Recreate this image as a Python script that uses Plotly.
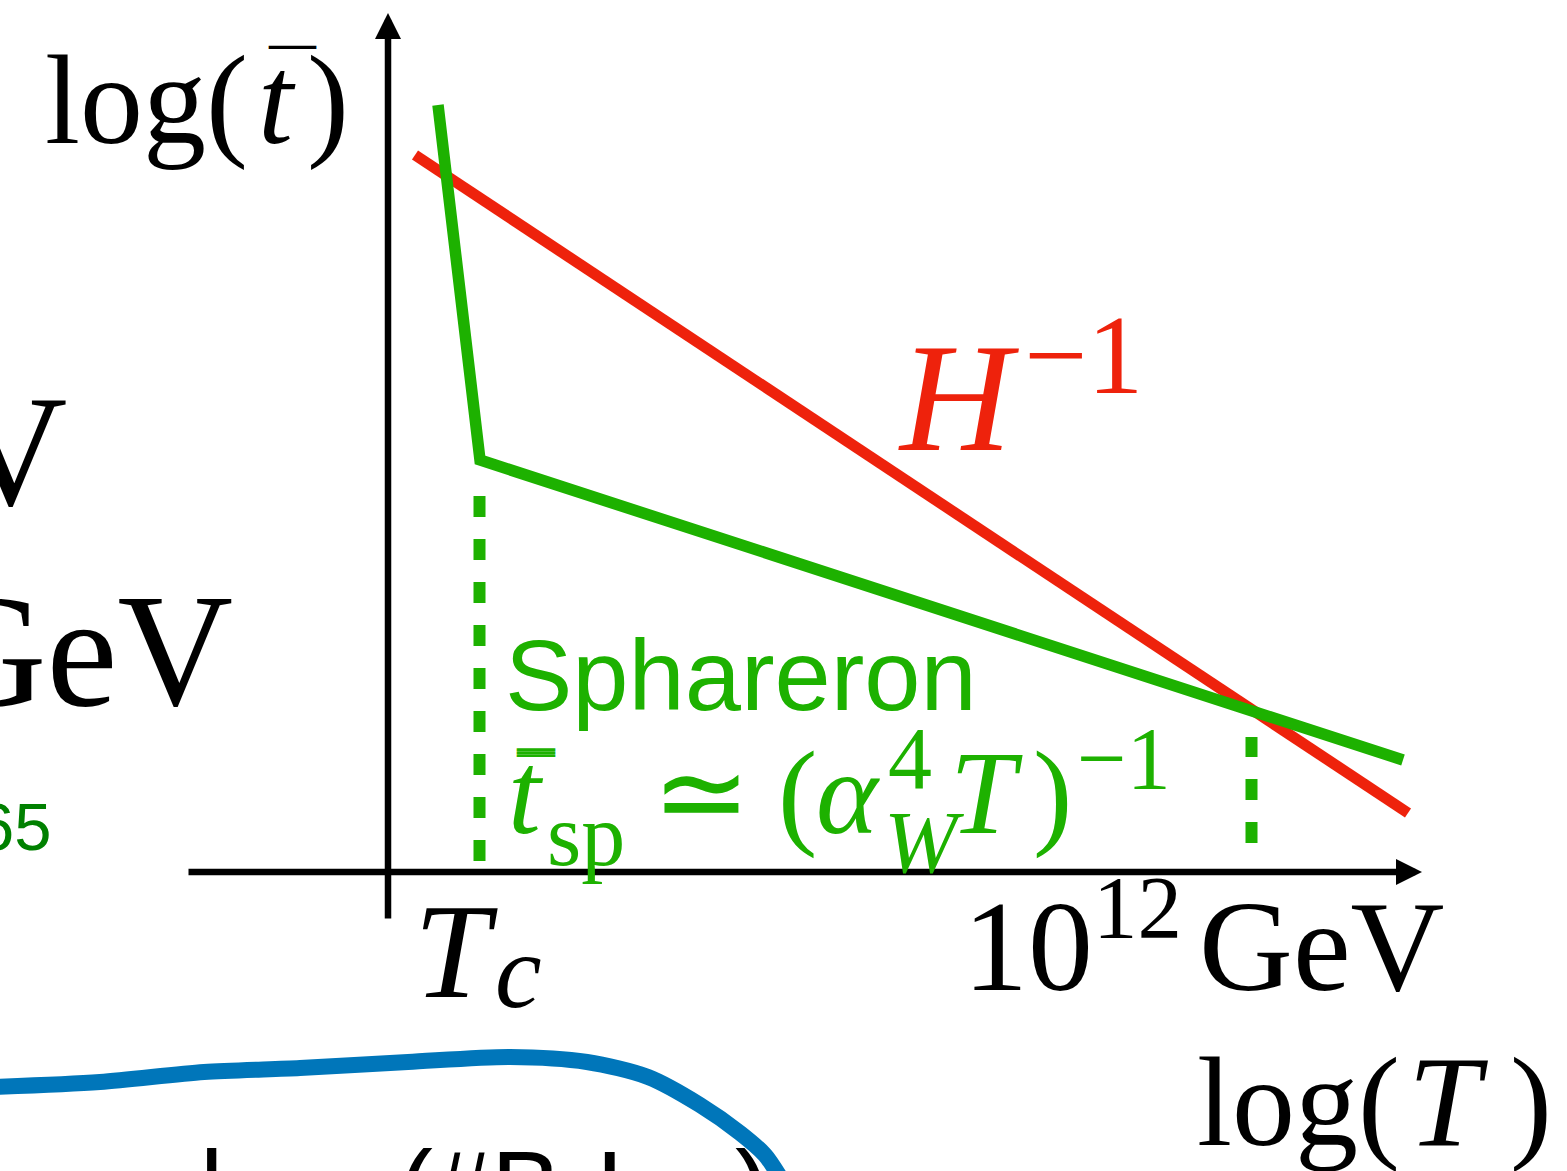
import plotly.graph_objects as go

# ---------------- data (arbitrary log units, origin at axis crossing) ----------------
hubble_x = [0.27, 10.20]          # log(T)
hubble_y = [7.17, 0.59]           # log(t) of H^-1

sphaleron_x = [0.50, 0.92, 10.15]
sphaleron_y = [7.67, 4.12, 1.12]

tc_x = [0.915, 0.915]             # T_c marker (dashed)
tc_y = [0.11, 3.76]
t12_x = [8.635, 8.635]            # 10^12 GeV marker (dashed)
t12_y = [0.29, 1.35]

blue_x = [-3.95, -2.88, -1.84, -0.88, 0.20, 1.22, 1.99, 2.60, 3.12, 3.52, 3.77, 3.92]
blue_y = [-2.15, -2.10, -2.00, -1.96, -1.90, -1.85, -1.90, -2.05, -2.33, -2.61, -2.83, -3.05]

xaxis_span = [-2.01, 10.34]
yaxis_span = [-0.48, 8.59]

RED = "#EE220C"
GREEN = "#1DB100"
BLUE = "#0076BA"
DKGREEN = "#008000"
SERIF = "Liberation Serif, Times New Roman, serif"
SANS = "Liberation Sans, Arial, Helvetica, sans-serif"

# pixel helpers (figure is 1567x1171, 100 px per unit)
X0, Y0, S = 388.0, 872.0, 100.0
def dx(px):
    return (px - X0) / S
def dy(py):
    return (Y0 - py) / S

fig = go.Figure()

fig.add_trace(go.Scatter(x=blue_x, y=blue_y, mode="lines",
                         line=dict(color=BLUE, width=16, shape="spline", smoothing=0.8),
                         hoverinfo="skip"))
fig.add_trace(go.Scatter(x=tc_x, y=tc_y, mode="lines",
                         line=dict(color=GREEN, width=12, dash="21px,22px"), hoverinfo="skip"))
fig.add_trace(go.Scatter(x=t12_x, y=t12_y, mode="lines",
                         line=dict(color=GREEN, width=12, dash="21px,22px"), hoverinfo="skip"))
fig.add_trace(go.Scatter(x=hubble_x, y=hubble_y, mode="lines",
                         line=dict(color=RED, width=11), hoverinfo="skip"))
fig.add_trace(go.Scatter(x=sphaleron_x, y=sphaleron_y, mode="lines",
                         line=dict(color=GREEN, width=11.5), hoverinfo="skip"))

ann = []
# axes with arrow heads
ann.append(dict(x=xaxis_span[1], y=0, ax=xaxis_span[0], ay=0, xref="x", yref="y",
                axref="x", ayref="y", text="", showarrow=True, arrowhead=2,
                arrowsize=0.8, arrowwidth=6.5, arrowcolor="black", standoff=0))
ann.append(dict(x=0, y=yaxis_span[1], ax=0, ay=yaxis_span[0], xref="x", yref="y",
                axref="x", ayref="y", text="", showarrow=True, arrowhead=2,
                arrowsize=0.8, arrowwidth=6.5, arrowcolor="black", standoff=0))


def T(text, x_px, base_px, size, color="black", family=SERIF, anchor="left"):
    asc = 0.891 if family == SERIF else 0.905
    top = base_px - asc * size
    ann.append(dict(text=text, x=dx(x_px), y=dy(top), xref="x", yref="y",
                    xanchor=anchor, yanchor="top", showarrow=False,
                    font=dict(family=family, size=size, color=color),
                    borderpad=0, borderwidth=0))

# y-axis label
T("log(", 45, 143, 126)
T("<i>t</i>", 258, 143, 126)
T(")", 307, 143, 126)
T("<b>\u2014</b>", 268, 57.5, 47)

# H^-1
T("<i>H</i>", 898, 450, 155, RED)
T("\u22121", 1024, 393, 112, RED)

# Sphaleron label
T("Sphareron", 505, 710, 101, GREEN, SANS)
T("<i>t</i>", 508, 833, 118, GREEN)
for yb in (759.0, 762.0, 765.0):
    T("<b>\u2014</b>", 516, yb, 38, GREEN)
T("sp", 547, 865, 88, GREEN)
T("\u2243", 652, 833, 118, GREEN)
T("(", 778, 833, 118, GREEN)
T("<i>\u03b1</i>", 816, 833, 118, GREEN)
T("4", 888, 788, 88, GREEN)
T("<i>W</i>", 884, 872, 88, GREEN)
T("<i>T</i>", 950, 833, 118, GREEN)
T(")", 1033, 833, 118, GREEN)
T("\u22121", 1077, 788, 88, GREEN)

# x ticks
T("<i>T</i>", 414, 997, 136)
T("<i>c</i>", 495, 1007, 105)
T("10", 963, 990, 130)
T("12", 1093, 937, 89)
T("GeV", 1199, 990, 130)

# x-axis label
T("log(", 1197, 1145, 126)
T("<i>T</i>", 1408, 1145, 130)
T(")", 1510, 1145, 126)

# cut-off slide text at the left and bottom
T("GeV", 67, 505, 158, anchor="right")
T("GeV", 233, 705, 160, anchor="right")
T("65", 52, 850, 67, DKGREEN, SANS, anchor="right")
T("l", 200, 1225, 105, "black", SANS)
T("(#B-L", 398, 1225, 105, "black", SANS)
T(")", 735, 1225, 105, "black", SANS)

fig.update_layout(
    width=1567, height=1171, autosize=False,
    margin=dict(l=0, r=0, t=0, b=0, pad=0),
    paper_bgcolor="white", plot_bgcolor="white",
    showlegend=False,
    xaxis=dict(range=[dx(0), dx(1567)], visible=False, fixedrange=True),
    yaxis=dict(range=[dy(1171), dy(0)], visible=False, fixedrange=True),
    annotations=ann,
)

fig.write_html("out.html", config={"displayModeBar": False},
               post_script="document.body.style.margin='0';")
